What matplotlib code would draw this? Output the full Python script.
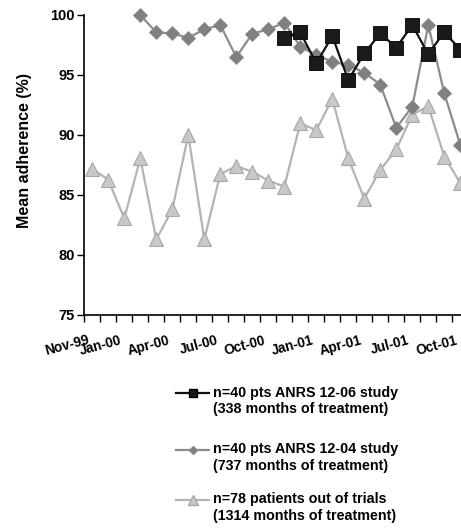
import matplotlib
matplotlib.use("Agg")
import matplotlib.pyplot as plt
from matplotlib.lines import Line2D
import numpy as np

plt.rcParams['font.family'] = ['Liberation Sans', 'DejaVu Sans']
plt.rcParams['font.weight'] = 'bold'

months = ['Nov-99', 'Dec-99', 'Jan-00', 'Feb-00', 'Mar-00', 'Apr-00', 'May-00', 'Jun-00',
          'Jul-00', 'Aug-00', 'Sep-00', 'Oct-00', 'Nov-00', 'Dec-00', 'Jan-01', 'Feb-01',
          'Mar-01', 'Apr-01', 'May-01', 'Jun-01', 'Jul-01', 'Aug-01', 'Sep-01', 'Oct-01']
shown_labels = ['Nov-99', 'Jan-00', 'Apr-00', 'Jul-00', 'Oct-00', 'Jan-01', 'Apr-01', 'Jul-01', 'Oct-01']

# ANRS 12-06 (squares), starts Nov-00
anrs1206 = [None]*12 + [98.1, 98.55, 95.97, 98.25, 94.58, 96.8, 98.47, 97.28, 99.17, 96.72, 98.6, 97.08]
# ANRS 12-04 (diamonds), starts Feb-00
anrs1204 = [None]*3 + [100.0, 98.55, 98.47, 98.1, 98.8, 99.17, 96.5, 98.45, 98.8, 99.36, 97.36,
                       96.67, 96.1, 95.83, 95.2, 94.2, 90.6, 92.36, 99.17, 93.47, 89.17]
# Out of trials (triangles)
outtrials = [87.2, 86.25, 83.05, 88.05, 81.3, 83.8, 90.0, 81.3, 86.75, 87.4, 86.95, 86.2,
             85.7, 90.97, 90.4, 93.0, 88.05, 84.7, 87.1, 88.8, 91.7, 92.4, 88.2, 86.0]

labels = ['n=40 pts ANRS 12-06 study\n(338 months of treatment)',
          'n=40 pts ANRS 12-04 study\n(737 months of treatment)',
          'n=78 patients out of trials\n(1314 months of treatment)']

W, H = 461, 528
fig = plt.figure(figsize=(W/100, H/100), dpi=100)
ax = fig.add_axes([84.3/W, (H-315)/H, 384/W, 300/H])

x = np.arange(len(months))
def arr(v):
    return np.array([np.nan if a is None else a for a in v], dtype=float)

ax.plot(x, arr(outtrials), color='#b4b4b4', lw=1.6, marker='^', ms=10.5,
        mfc='#c8c8c8', mec='#a8a8a8', mew=0.8, zorder=2, clip_on=False)
ax.plot(x, arr(anrs1204), color='#8c8c8c', lw=1.6, marker='D', ms=7.2,
        mfc='#808080', mec='#8a8a8a', mew=0.6, zorder=3, clip_on=False)
ax.plot(x, arr(anrs1206), color='#111111', lw=1.6, marker='s', ms=9.5,
        mfc='#1a1a1a', mec='#000000', mew=0.6, zorder=4, clip_on=False)

ax.set_xlim(-0.5, 23.5)
ax.set_ylim(75, 100)
ax.set_yticks([75, 80, 85, 90, 95, 100])
ax.tick_params(axis='y', direction='out', length=5, width=1.0, labelsize=10.5, pad=2)
ax.set_xticks(np.arange(-0.5, 24.0, 1.0))
ax.tick_params(axis='x', which='major', direction='out', length=5, width=1.0, labelbottom=False)
label_pos = [months.index(m) - 0.3 for m in shown_labels]
ax.set_xticks(label_pos, minor=True)
ax.set_xticklabels(shown_labels, minor=True, rotation=15, rotation_mode='anchor',
                   ha='right', va='top', fontsize=9.8, fontweight='bold')
ax.tick_params(axis='x', which='minor', length=0, pad=13)
for lab in ax.get_yticklabels():
    lab.set_fontweight('bold')

for s in ['top', 'right']:
    ax.spines[s].set_visible(False)
for s in ['left', 'bottom']:
    ax.spines[s].set_linewidth(1.2)

fig.text(25/W, 1 - 150/H, 'Mean adherence (%)', rotation=90, ha='center', va='center',
         fontsize=11.5, fontweight='bold')

# Legend (manual)
styles = [dict(color='#111111', marker='s', mfc='#1a1a1a', mec='#000000', ms=5.5),
          dict(color='#8c8c8c', marker='D', mfc='#808080', mec='#8a8a8a', ms=4.5),
          dict(color='#b4b4b4', marker='^', mfc='#c8c8c8', mec='#a8a8a8', ms=6.5)]
line_y = [393, 450, 500]
for st, lab, yy in zip(styles, labels, line_y):
    fig.add_artist(Line2D([176/W, 209/W], [1-yy/H, 1-yy/H], lw=1.6, transform=fig.transFigure,
                          color=st['color']))
    fig.add_artist(Line2D([192.5/W], [1-yy/H], lw=0, transform=fig.transFigure,
                          marker=st['marker'], mfc=st['mfc'], mec=st['mec'], ms=st['ms']))
    fig.text(213/W, 1-(yy-7.5)/H, lab, ha='left', va='top', fontsize=10.3, fontweight='bold',
             linespacing=1.2)

fig.savefig('out.png', dpi=100)
